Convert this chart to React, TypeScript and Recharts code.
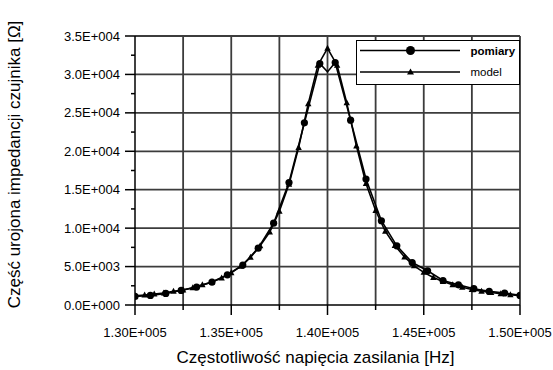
import { LineChart, Line, XAxis, YAxis, ReferenceLine, Legend } from 'recharts';

// measured points (circles), every 0.8 kHz
const pomiaryFreq = [
  130000, 130800, 131600, 132400, 133200, 134000, 134800, 135600, 136400, 137200, 138000, 138800, 139600,
  140000, 140400, 141200, 142000, 142800, 143600, 144400, 145200, 146000, 146800, 147600, 148400, 149200, 150000,
];
const pomiaryValues = [
  1120, 1250, 1500, 1900, 2330, 2980, 3930, 5190, 7400, 10640, 15930, 23700, 31420,
  30330, 31550, 24050, 16390, 10960, 7700, 5530, 4450, 3190, 2630, 2120, 1770, 1560, 1250,
];
// the point at 1.40E+005 has no marker on the original plot
const hiddenMarkerFreq = 140000;

// model (triangles), every 0.5 kHz
const modelFreq = [
  130000, 130500, 131000, 131500, 132000, 132500, 133000, 133500, 134000, 134500, 135000,
  135500, 136000, 136500, 137000, 137500, 138000, 138500, 139000, 139500, 140000,
  140500, 141000, 141500, 142000, 142500, 143000, 143500, 144000, 144500, 145000,
  145500, 146000, 146500, 147000, 147500, 148000, 148500, 149000, 149500, 150000,
];
const modelValues = [
  1200, 1310, 1420, 1560, 1780, 1960, 2240, 2620, 3000, 3520, 4200,
  5050, 6200, 7700, 9500, 12200, 15700, 20500, 26200, 31200, 33400,
  31200, 26300, 20700, 15800, 12300, 9600, 7750, 6250, 5100, 4250,
  3580, 3050, 2650, 2300, 2020, 1800, 1620, 1460, 1340, 1220,
];

const xTicks = [130000, 132500, 135000, 137500, 140000, 142500, 145000, 147500, 150000];
const xGrid = [132500, 135000, 137500, 140000, 142500, 145000, 147500, 150000];
const yTicks = [0, 2500, 5000, 7500, 10000, 12500, 15000, 17500, 20000, 22500, 25000, 27500, 30000, 32500, 35000];
const yGrid = [5000, 10000, 15000, 20000, 25000, 30000, 35000];

const seriesNames = ['pomiary', 'model'];
const xTitle = 'Częstotliwość napięcia zasilania [Hz]';
const yTitle = 'Część urojona impedancji czujnika [Ω]';

const pomiaryData = pomiaryFreq.map((f, i) => ({ f, v: pomiaryValues[i] }));
const modelData = modelFreq.map((f, i) => ({ f, v: modelValues[i] }));

const FONT = '"Liberation Sans", Arial, sans-serif';
const GRID = '#3c3c3c';

function sci(v: number, digits: number) {
  const [m, e] = v.toExponential(digits).split('e');
  const n = parseInt(e, 10);
  return `${m}E${n < 0 ? '-' : '+'}${String(Math.abs(n)).padStart(3, '0')}`;
}

function XTick({ x, y, payload }: any) {
  const major = payload.value % 5000 === 0;
  return (
    <g>
      <line x1={x} x2={x} y1={y} y2={y + (major ? 10 : 5)} stroke="#000" strokeWidth={1.5} />
      {major && (
        <text x={x} y={y + 32} textAnchor="middle" fontSize={13} fontFamily={FONT} fill="#000">
          {sci(payload.value, 2)}
        </text>
      )}
    </g>
  );
}

function YTick({ x, y, payload }: any) {
  const major = payload.value % 5000 === 0;
  return (
    <g>
      <line x1={x - (major ? 10 : 4)} x2={x} y1={y} y2={y} stroke="#000" strokeWidth={1.5} />
      {major && (
        <text x={x - 15} y={y + 4.5} textAnchor="end" fontSize={13} fontFamily={FONT} fill="#000">
          {sci(payload.value, 1)}
        </text>
      )}
    </g>
  );
}

function CircleDot({ cx, cy, payload }: any) {
  if (payload.f === hiddenMarkerFreq) return <g />;
  return <circle cx={cx} cy={cy} r={3.6} fill="#000" />;
}

function TriangleDot({ cx, cy }: any) {
  return <path d={`M${cx},${cy - 3.5}L${cx + 3.2},${cy + 2.5}L${cx - 3.2},${cy + 2.5}Z`} fill="#000" />;
}

function LegendBox() {
  return (
    <div style={{ width: 164, height: 45, border: '1px solid #000', background: '#fff', boxSizing: 'border-box' }}>
      <svg width={162} height={43} style={{ display: 'block' }}>
        <line x1={3} x2={103} y1={9.5} y2={9.5} stroke="#000" strokeWidth={1.5} />
        <circle cx={53.5} cy={9.5} r={4.5} fill="#000" />
        <text x={113.5} y={13.5} fontSize={11.5} fontWeight="bold" fontFamily={FONT}>{seriesNames[0]}</text>
        <line x1={3} x2={103} y1={31} y2={31} stroke="#000" strokeWidth={1.5} />
        <path d="M53.5,27.5L57,33.5L50,33.5Z" fill="#000" />
        <text x={113.5} y={35} fontSize={11.5} fontFamily={FONT}>{seriesNames[1]}</text>
      </svg>
    </div>
  );
}

export default function App() {
  return (
    <div style={{ position: 'absolute', left: 0, top: 0, width: 553, height: 370, background: '#fff' }}>
      <LineChart width={553} height={370} margin={{ top: 36, right: 33, bottom: 0, left: 0 }}>
        {xGrid.map((v) => (
          <ReferenceLine key={`x${v}`} x={v} stroke={GRID} strokeWidth={1.8} />
        ))}
        {yGrid.map((v) => (
          <ReferenceLine key={`y${v}`} y={v} stroke={GRID} strokeWidth={1.8} />
        ))}
        <XAxis
          type="number"
          dataKey="f"
          domain={[130000, 150000]}
          ticks={xTicks}
          interval={0}
          tick={<XTick />}
          tickLine={false}
          tickSize={0}
          tickMargin={0}
          height={65}
          axisLine={{ stroke: '#000', strokeWidth: 1.5 }}
          allowDataOverflow
          label={{
            content: ({ viewBox }: any) => (
              <text x={315.5} y={viewBox.y + 58} textAnchor="middle" fontSize={17} fontFamily={FONT} fill="#000">
                {xTitle}
              </text>
            ),
          }}
        />
        <YAxis
          type="number"
          domain={[0, 35000]}
          ticks={yTicks}
          interval={0}
          tick={<YTick />}
          tickLine={false}
          tickSize={0}
          tickMargin={0}
          width={135}
          axisLine={{ stroke: '#000', strokeWidth: 1.5 }}
          allowDataOverflow
          label={{
            content: ({ viewBox }: any) => {
              const cy = viewBox.y + viewBox.height / 2 - 6;
              return (
                <text
                  x={14}
                  y={cy}
                  transform={`rotate(-90, 14, ${cy})`}
                  textAnchor="middle"
                  dominantBaseline="central"
                  fontSize={17}
                  fontFamily={FONT}
                  fill="#000"
                >
                  {yTitle}
                </text>
              );
            },
          }}
        />
        <Legend
          layout="vertical"
          align="center"
          verticalAlign="middle"
          content={() => <LegendBox />}
          wrapperStyle={{ position: 'absolute', left: 356, top: 40, width: 164, height: 45 }}
        />
        <Line
          data={modelData}
          dataKey="v"
          name={seriesNames[1]}
          type="linear"
          stroke="#000"
          strokeWidth={1.6}
          dot={<TriangleDot />}
          activeDot={false}
          isAnimationActive={false}
        />
        <Line
          data={pomiaryData}
          dataKey="v"
          name={seriesNames[0]}
          type="linear"
          stroke="#000"
          strokeWidth={1.6}
          dot={<CircleDot />}
          activeDot={false}
          isAnimationActive={false}
        />
      </LineChart>
    </div>
  );
}
